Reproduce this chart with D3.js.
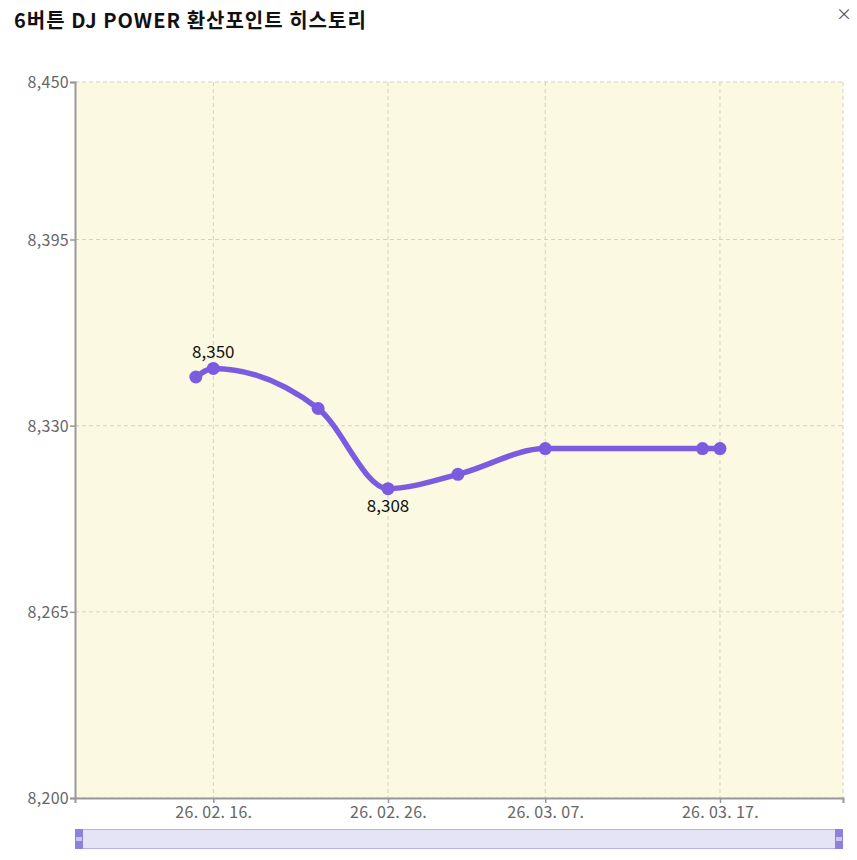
<!DOCTYPE html>
<html>
<head>
<meta charset="utf-8">
<script src="https://cdn.jsdelivr.net/npm/d3@7"></script>
<style>
  body { margin: 0; background: #fff; font-family: "Noto Sans CJK KR", "Noto Sans", sans-serif; }
</style>
</head>
<body>
<div class="chart"></div>
<script>
// DJ POWER history data
var dates = ["2026-02-15", "2026-02-16", "2026-02-22", "2026-02-26", "2026-03-02", "2026-03-07", "2026-03-16", "2026-03-17"];
var points = [8347, 8350, 8336, 8308, 8313, 8322, 8322, 8322];
var yTicks = [8200, 8265, 8330, 8395, 8450];
var xTicks = ["2026-02-16", "2026-02-26", "2026-03-07", "2026-03-17"];

var svgWidth = 857, svgHeight = 860;
var margin = { top: 82, right: 14, bottom: 62, left: 75 };
var width = svgWidth - margin.left - margin.right;
var height = svgHeight - margin.top - margin.bottom;

var parse = d3.timeParse("%Y-%m-%d");
var data = dates.map((d, i) => ({ date: parse(d), value: points[i] }));

var svg = d3.select(".chart").append("svg")
  .attr("width", svgWidth)
  .attr("height", svgHeight);

// title + close
svg.append("text")
  .attr("x", 14).attr("y", 28)
  .attr("font-size", 20).attr("font-weight", "bold")
  .attr("letter-spacing", 1)
  .attr("fill", "#111")
  .text("6버튼 DJ POWER 환산포인트 히스토리");
svg.append("text")
  .attr("x", 844).attr("y", 20)
  .attr("text-anchor", "middle")
  .attr("font-size", 16).attr("fill", "#555")
  .text("×");

var chartGroup = svg.append("g")
  .attr("transform", `translate(${margin.left}, ${margin.top})`);

var x = d3.scaleTime()
  .domain([new Date(2026, 1, 8, 2), new Date(2026, 2, 24, 1)])
  .range([0, width]);
var y = d3.scaleLinear()
  .domain([8200, 8450])
  .range([height, 0]);

// background
chartGroup.append("rect")
  .attr("width", width).attr("height", height)
  .attr("fill", "#fbf9e1");

// grid
chartGroup.selectAll(".hgrid")
  .data(yTicks)
  .enter().append("line")
  .attr("x1", 0).attr("x2", width)
  .attr("y1", d => y(d)).attr("y2", d => y(d))
  .attr("stroke", "#d4d2c2").attr("stroke-dasharray", "4,3");
chartGroup.selectAll(".vgrid")
  .data(xTicks)
  .enter().append("line")
  .attr("x1", d => x(parse(d))).attr("x2", d => x(parse(d)))
  .attr("y1", 0).attr("y2", height)
  .attr("stroke", "#d4d2c2").attr("stroke-dasharray", "4,3");
chartGroup.append("line")
  .attr("x1", width).attr("x2", width)
  .attr("y1", 0).attr("y2", height)
  .attr("stroke", "#d4d2c2").attr("stroke-dasharray", "4,3");

// axes
var leftAxis = d3.axisLeft(y).tickValues(yTicks).tickSize(5).tickFormat(d3.format(","));
var bottomAxis = d3.axisBottom(x).tickValues(xTicks.map(parse)).tickSize(5)
  .tickFormat(d3.timeFormat("%y. %m. %d."));

var yAxis = chartGroup.append("g").call(leftAxis);
var xAxis = chartGroup.append("g")
  .attr("transform", `translate(0, ${height})`)
  .call(bottomAxis);

[yAxis, xAxis].forEach(function(a) {
  a.select(".domain").attr("stroke", "#999").attr("stroke-width", 2);
  a.selectAll(".tick line").attr("stroke", "#999").attr("stroke-width", 1.5);
  a.selectAll("text").attr("fill", "#666").attr("font-size", 16)
    .attr("letter-spacing", 0.3)
    .attr("font-family", "'Noto Sans CJK KR', 'Noto Sans', sans-serif");
});
yAxis.selectAll("text").attr("dy", "0.35em").attr("x", -6);
xAxis.selectAll("text").attr("y", 9);

// line
var line = d3.line()
  .x(d => x(d.date))
  .y(d => y(d.value))
  .curve(d3.curveMonotoneX);

chartGroup.append("path")
  .datum(data)
  .attr("d", line)
  .attr("fill", "none")
  .attr("stroke", "#7b5ce1")
  .attr("stroke-width", 5.5)
  .attr("stroke-linecap", "round");

chartGroup.selectAll("circle")
  .data(data)
  .enter().append("circle")
  .attr("cx", d => x(d.date))
  .attr("cy", d => y(d.value))
  .attr("r", 6.5)
  .attr("fill", "#7b5ce1");

// max / min labels
var maxD = data.reduce((a, b) => b.value > a.value ? b : a);
var minD = data.reduce((a, b) => b.value < a.value ? b : a);
chartGroup.append("text")
  .attr("x", x(maxD.date)).attr("y", y(maxD.value) - 10)
  .attr("text-anchor", "middle").attr("font-size", 17).attr("fill", "#111")
  .text(d3.format(",")(maxD.value));
chartGroup.append("text")
  .attr("x", x(minD.date)).attr("y", y(minD.value) + 23)
  .attr("text-anchor", "middle").attr("font-size", 17).attr("fill", "#111")
  .text(d3.format(",")(minD.value));

// scrollbar
var sb = svg.append("g").attr("transform", `translate(${margin.left}, 829)`);
sb.append("rect")
  .attr("x", 0.5).attr("y", 0.5)
  .attr("width", width - 1).attr("height", 19)
  .attr("fill", "#e5e3f6").attr("stroke", "#b7b0ea");
[0, width - 8].forEach(function(hx) {
  sb.append("rect").attr("x", hx).attr("y", 0).attr("width", 8).attr("height", 20).attr("fill", "#8c82de");
  sb.append("rect").attr("x", hx + 1).attr("y", 8).attr("width", 6).attr("height", 4).attr("fill", "#c9c4f0");
});
</script>
</body>
</html>
